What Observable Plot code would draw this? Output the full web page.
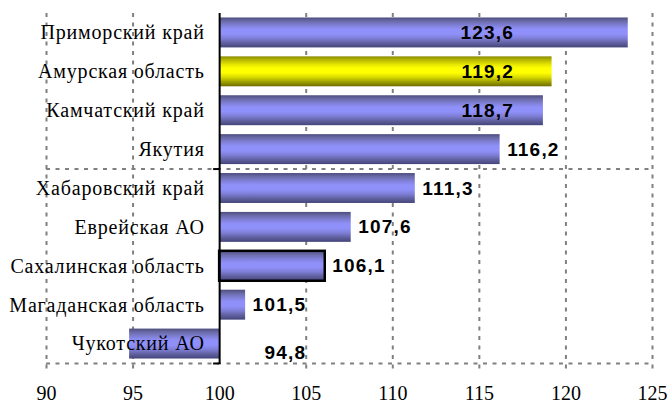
<!DOCTYPE html>
<html>
<head>
<meta charset="utf-8">
<script src="https://cdn.jsdelivr.net/npm/d3@7"></script>
<script src="https://cdn.jsdelivr.net/npm/@observablehq/plot@0.6"></script>
<style>
  html, body { margin: 0; padding: 0; background: #fff; }
  #chart svg { display: block; }
</style>
</head>
<body>
<div id="chart"></div>
<script>
const regions = ["Приморский край", "Амурская область", "Камчатский край", "Якутия",
  "Хабаровский край", "Еврейская АО", "Сахалинская область", "Магаданская область", "Чукотский АО"];
const values = [123.6, 119.2, 118.7, 116.2, 111.3, 107.6, 106.1, 101.5, 94.8];
const highlighted = ["Амурская область"];
const outlined = ["Сахалинская область"];
const xTicks = [90, 95, 100, 105, 110, 115, 120, 125];
const baseline = 100;
const hLines = [4, 9];

const data = regions.map((name, i) => ({name, i, value: values[i]}));
const pad = 0.115;

const fmt = v => v.toFixed(1).replace(".", ",");

const defs = () => {
  const d = d3.create("svg:defs");
  const mk = (id, stops) => {
    const g = d.append("linearGradient").attr("id", id)
      .attr("x1", 0).attr("y1", 0).attr("x2", 0).attr("y2", 1);
    stops.forEach(([o, c]) => g.append("stop").attr("offset", o).attr("stop-color", c));
  };
  mk("gBlue", [[0, "#4e4e80"], [0.12, "#6a6aa8"], [0.28, "#8282dc"], [0.4, "#9090fa"], [0.55, "#9090fa"],
    [0.7, "#7e7ed6"], [0.85, "#6060a0"], [1, "#45457a"]]);
  mk("gYellow", [[0, "#8a8a00"], [0.12, "#b8b800"], [0.28, "#e8e800"], [0.4, "#ffff00"], [0.55, "#ffff00"],
    [0.7, "#d8d800"], [0.85, "#a0a000"], [1, "#6e6e00"]]);
  return d.node();
};

const grid = {stroke: "#808080", strokeWidth: 2, strokeDasharray: "4,5.5"};
const serif = "'Liberation Serif', 'Times New Roman', serif";
const sans = "'Liberation Sans', Arial, sans-serif";
const valueText = {fontFamily: sans, fontWeight: "bold", fontSize: 19, fill: "#000"};

const chart = Plot.plot({
  width: 669,
  height: 405,
  marginLeft: 46,
  marginRight: 17,
  marginTop: 13,
  marginBottom: 42,
  x: {domain: [90, 125], ticks: xTicks, tickSize: 0, tickPadding: 22, label: null},
  y: {domain: [0, 9], reverse: true, axis: null},
  style: {fontFamily: serif, fontSize: "20px", color: "#000"},
  marks: [
    defs,
    Plot.ruleX(xTicks.filter(t => t !== baseline), {...grid, insetBottom: -9}),
    Plot.ruleY(hLines, {x1: 90, x2: 125, ...grid}),
    Plot.rect(data, {
      x1: baseline, x2: "value",
      y1: d => d.i + pad, y2: d => d.i + 1 - pad,
      fill: d => highlighted.includes(d.name) ? "url(#gYellow)" : "url(#gBlue)",
      stroke: d => outlined.includes(d.name) ? "#000" : "none",
      strokeWidth: 2.5
    }),
    Plot.ruleX([baseline], {stroke: "#000", strokeWidth: 2, insetBottom: -1}),
    Plot.ruleY(hLines, {x1: baseline, x2: baseline, insetLeft: -6, stroke: "#000", strokeWidth: 2}),
    Plot.text(data, {
      x: baseline, y: d => d.i + 0.5, text: "name",
      textAnchor: "end", dx: -15,
      fontFamily: serif, fontSize: 20, fill: "#000", className: "ylab"
    }),
    Plot.text(data.filter(d => d.value >= 117), {
      x: 117, y: d => d.i + 0.5, text: d => fmt(d.value),
      textAnchor: "end", ...valueText, className: "vlab"
    }),
    Plot.text(data.filter(d => d.value < 117 && d.value >= baseline), {
      x: "value", y: d => d.i + 0.5, text: d => fmt(d.value),
      textAnchor: "start", dx: 7, ...valueText, className: "vlab"
    }),
    Plot.text(data.filter(d => d.value < baseline), {
      x: 105, y: d => d.i + 0.5, text: d => fmt(d.value),
      textAnchor: "end", dy: 9, ...valueText, className: "vlab"
    })
  ]
});
chart.querySelectorAll(".ylab text").forEach(t => { t.style.letterSpacing = "0.8px"; });
chart.querySelectorAll(".vlab text").forEach(t => { t.style.letterSpacing = "1.2px"; });
document.getElementById("chart").appendChild(chart);
</script>
</body>
</html>
